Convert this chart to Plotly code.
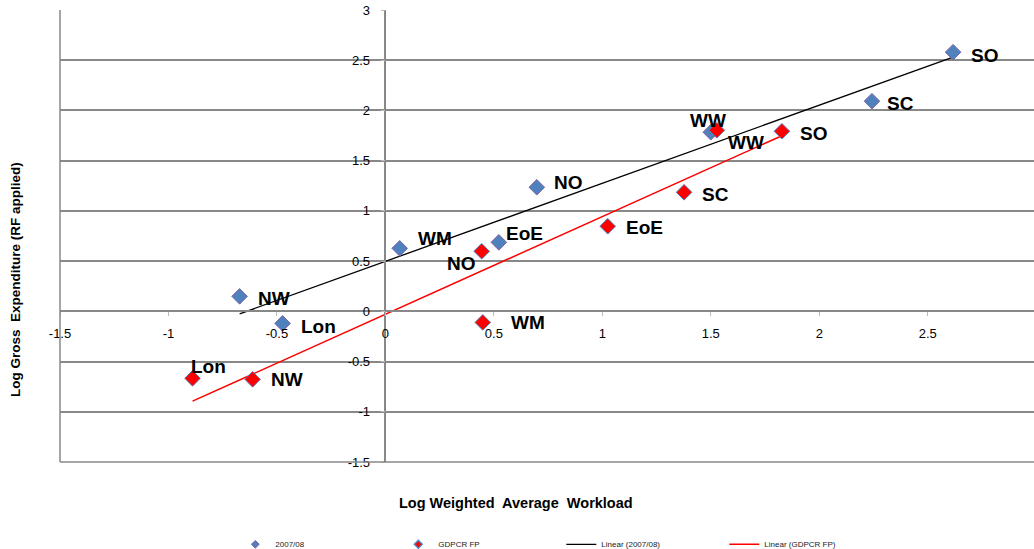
import numpy as np
import plotly.graph_objects as go

# Regions and log-scaled values for each series
regions_0708 = ["SO", "SC", "WW", "NO", "EoE", "WM", "NW", "Lon"]
workload_0708 = [2.617, 2.243, 1.500, 0.698, 0.523, 0.066, -0.672, -0.474]
expenditure_0708 = [2.580, 2.092, 1.783, 1.235, 0.687, 0.627, 0.149, -0.120]

regions_gdpcr = ["SO", "WW", "SC", "EoE", "NO", "WM", "Lon", "NW"]
workload_gdpcr = [1.828, 1.528, 1.377, 1.025, 0.444, 0.449, -0.889, -0.612]
expenditure_gdpcr = [1.793, 1.803, 1.185, 0.847, 0.598, -0.110, -0.667, -0.677]

# Axis ticks
x_ticks = [-1.5, -1, -0.5, 0, 0.5, 1, 1.5, 2, 2.5]
x_tick_text = ["-1.5", "-1", "-0.5", "0", "0.5", "1", "1.5", "2", "2.5"]
y_ticks = [-1.5, -1, -0.5, 0, 0.5, 1, 1.5, 2, 2.5, 3]
y_tick_text = ["-1.5", "-1", "-0.5", "0", "0.5", "1", "1.5", "2", "2.5", "3"]

# Label placement: (xanchor, x offset px, y offset px downward)
label_place_0708 = {
    "SO": ("left", 16, 3), "SC": ("left", 13, 2), "WW": ("center", -3, -12),
    "NO": ("left", 15, -5), "EoE": ("left", 5, -9), "WM": ("left", 16, -10),
    "NW": ("left", 16, 2), "Lon": ("left", 16, 3),
}
label_place_gdpcr = {
    "SO": ("left", 16, 2), "WW": ("left", 9, 12), "SC": ("left", 16, 2),
    "EoE": ("left", 16, 1), "NO": ("right", -4, 12), "WM": ("left", 26, 0),
    "Lon": ("left", -4, -12), "NW": ("left", 16, 0),
}

FONT = "Liberation Sans, Arial, sans-serif"
BLUE = "#4F81BD"
RED = "#FF0000"
GRID = "#888888"


def linear_fit(xs, ys):
    slope, intercept = np.polyfit(xs, ys, 1)
    x_line = np.array([min(xs), max(xs)])
    return x_line, slope * x_line + intercept


fig = go.Figure()

# legend-only marker entries (small symbols as in the key)
fig.add_trace(go.Scatter(
    x=[None], y=[None], mode="markers", name="2007/08",
    marker=dict(symbol="diamond", size=6, color=BLUE, line=dict(color="#8064A2", width=1)),
))
fig.add_trace(go.Scatter(
    x=[None], y=[None], mode="markers", name="GDPCR FP",
    marker=dict(symbol="diamond", size=6, color=RED, line=dict(color=BLUE, width=1.5)),
))

# trend lines
lx, ly = linear_fit(workload_0708, expenditure_0708)
fig.add_trace(go.Scatter(x=lx, y=ly, mode="lines", name="Linear (2007/08)",
                         line=dict(color="black", width=1.3)))
lx2, ly2 = linear_fit(workload_gdpcr, expenditure_gdpcr)
fig.add_trace(go.Scatter(x=lx2, y=ly2, mode="lines", name="Linear (GDPCR FP)",
                         line=dict(color=RED, width=1.5)))

# data points
fig.add_trace(go.Scatter(
    x=workload_0708, y=expenditure_0708, mode="markers", showlegend=False,
    marker=dict(symbol="diamond", size=12, color=BLUE, line=dict(color="#8064A2", width=1)),
))
fig.add_trace(go.Scatter(
    x=workload_gdpcr, y=expenditure_gdpcr, mode="markers", showlegend=False,
    marker=dict(symbol="diamond", size=12, color=RED, line=dict(color=BLUE, width=1)),
))

annotations = []
for names, xs, ys, place in [
    (regions_0708, workload_0708, expenditure_0708, label_place_0708),
    (regions_gdpcr, workload_gdpcr, expenditure_gdpcr, label_place_gdpcr),
]:
    for name, xv, yv in zip(names, xs, ys):
        anchor, dx, dy = place[name]
        annotations.append(dict(
            x=xv, y=yv, xref="x", yref="y", text=f"<b>{name}</b>", showarrow=False,
            xanchor=anchor, yanchor="middle", xshift=dx, yshift=-dy,
            font=dict(family=FONT, size=19, color="black"),
        ))

W, H = 1034, 549
ML, MR, MT, MB = 60, 0, 10, 87
PW, PH = W - ML - MR, H - MT - MB

# axis titles (placed in pixel terms, converted to paper fractions)
annotations.append(dict(
    x=(516 - ML) / PW, y=(H - MB - 503) / PH, xref="paper", yref="paper",
    text="<b>Log Weighted  Average  Workload</b>", showarrow=False,
    xanchor="center", yanchor="middle",
    font=dict(family=FONT, size=14.5, color="black"),
))
annotations.append(dict(
    x=(16 - ML) / PW, y=(H - MB - 280) / PH, xref="paper", yref="paper",
    text="<b>Log Gross  Expenditure (RF applied)</b>", showarrow=False,
    textangle=-90, xanchor="center", yanchor="middle",
    font=dict(family=FONT, size=13.5, color="black"),
))

x_range = [-1.5, 2.99]
y_range = [-1.5, 3]
yaxis_pos = (0 - x_range[0]) / (x_range[1] - x_range[0])
xaxis_pos = (0 - y_range[0]) / (y_range[1] - y_range[0])

fig.update_layout(
    width=W, height=H,
    margin=dict(l=ML, r=MR, t=MT, b=MB, autoexpand=False),
    paper_bgcolor="white", plot_bgcolor="white",
    font=dict(family=FONT, color="black"),
    xaxis=dict(
        range=x_range, tickvals=x_ticks, ticktext=x_tick_text,
        showgrid=False, zeroline=False, showline=True, linecolor=GRID, linewidth=1.5,
        anchor="free", position=xaxis_pos,
        ticks="outside", ticklen=4, tickcolor="#bbbbbb", ticklabelstandoff=6,
        tickfont=dict(family=FONT, size=13, color="black"),
    ),
    yaxis=dict(
        range=y_range, tickvals=y_ticks, ticktext=y_tick_text,
        showgrid=True, gridcolor=GRID, gridwidth=1.5,
        zeroline=False, showline=True, linecolor=GRID, linewidth=1.5,
        anchor="free", position=yaxis_pos,
        ticks="outside", ticklen=4, tickcolor="#bbbbbb", ticklabelstandoff=8,
        tickfont=dict(family=FONT, size=13, color="black"),
    ),
    shapes=[
        dict(type="line", xref="paper", yref="paper", x0=0, x1=0, y0=0, y1=1,
             line=dict(color=GRID, width=1.5)),
        dict(type="line", xref="paper", yref="paper", x0=0, x1=1, y0=0, y1=0,
             line=dict(color=GRID, width=1.5)),
    ],
    annotations=annotations,
    legend=dict(
        orientation="h", x=0.18, y=-0.150, xanchor="left", yanchor="top",
        entrywidth=118, entrywidthmode="pixels",
        font=dict(family=FONT, size=8, color="#222222"),
        bgcolor="rgba(0,0,0,0)",
    ),
)

fig.write_html("out.html")
